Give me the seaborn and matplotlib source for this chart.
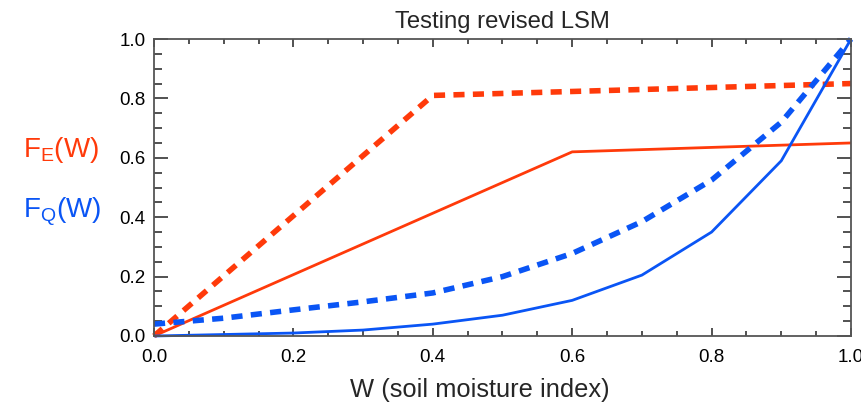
import matplotlib
matplotlib.use("Agg")
import numpy as np
import pandas as pd
import seaborn as sns
import matplotlib.pyplot as plt
from matplotlib.ticker import MultipleLocator

# ---- data ----
w_fe_dashed = [0.0, 0.4, 1.0]
fe_dashed = [0.0, 0.81, 0.85]
w_fe_solid = [0.0, 0.6, 1.0]
fe_solid = [0.0, 0.62, 0.65]
w_fq = [0.0, 0.1, 0.2, 0.3, 0.4, 0.5, 0.6, 0.7, 0.8, 0.9, 1.0]
fq_solid = [0.0, 0.005, 0.01, 0.02, 0.04, 0.07, 0.12, 0.205, 0.35, 0.59, 1.0]
fq_dashed = [0.04, 0.06, 0.088, 0.115, 0.145, 0.2, 0.278, 0.385, 0.525, 0.72, 1.0]
xticks = [0.0, 0.2, 0.4, 0.6, 0.8, 1.0]
yticks = [0.0, 0.2, 0.4, 0.6, 0.8, 1.0]

RED = "#ff3a0a"
BLUE = "#0a55f5"

sns.set_style("ticks")
plt.rcParams['font.family'] = ['Liberation Sans', 'DejaVu Sans']

fig = plt.figure(figsize=(8.62, 4.04), dpi=100)
ax = fig.add_axes([154/862, 1-336/404, (851-154)/862, (336-39)/404])

df_fed = pd.DataFrame({"W": w_fe_dashed, "F": fe_dashed})
df_fes = pd.DataFrame({"W": w_fe_solid, "F": fe_solid})
df_fqs = pd.DataFrame({"W": w_fq, "F": fq_solid})
df_fqd = pd.DataFrame({"W": w_fq, "F": fq_dashed})

sns.lineplot(data=df_fes, x="W", y="F", ax=ax, color=RED, lw=2.0)
sns.lineplot(data=df_fed, x="W", y="F", ax=ax, color=RED, lw=4.0,
             linestyle=(0, (2.0, 1.5)))
sns.lineplot(data=df_fqs, x="W", y="F", ax=ax, color=BLUE, lw=2.0)
sns.lineplot(data=df_fqd, x="W", y="F", ax=ax, color=BLUE, lw=4.0,
             linestyle=(0, (2.0, 1.5)))
for ln in ax.lines:
    ln.set_clip_on(False)
    ln.set_solid_capstyle("butt")
    ln.set_dash_capstyle("butt")

ax.set_xlim(0, 1)
ax.set_ylim(0, 1)
ax.set_xticks(xticks)
ax.set_yticks(yticks)
ax.set_xticklabels([f"{v:.1f}" for v in xticks])
ax.set_yticklabels([f"{v:.1f}" for v in yticks])
ax.xaxis.set_minor_locator(MultipleLocator(0.05))
ax.yaxis.set_minor_locator(MultipleLocator(0.05))
ax.tick_params(axis="both", which="both", direction="in", top=True, right=True,
               colors="#333333", labelcolor="black", labelsize=13.5, width=1.2)
ax.tick_params(axis="y", which="major", length=10, pad=6)
ax.tick_params(axis="y", which="minor", length=6)
ax.tick_params(axis="x", which="major", length=6, pad=9)
ax.tick_params(axis="x", which="minor", length=3.5)
for s in ax.spines.values():
    s.set_color("#555555")
    s.set_linewidth(1.3)

ax.set_xlabel("W (soil moisture index)", fontsize=18.4)
ax.xaxis.set_label_coords((480-154)/697, -0.14)
ax.set_ylabel("")
ax.set_title("Testing revised LSM", fontsize=17.2, pad=8)

fig.text(23/862, 1-150/404, r"$\mathregular{F_E(W)}$", color=RED, fontsize=20,
         ha="left", va="center")
fig.text(23/862, 1-212/404, r"$\mathregular{F_Q(W)}$", color=BLUE, fontsize=20,
         ha="left", va="center")

fig.savefig("out.png", dpi=100)
